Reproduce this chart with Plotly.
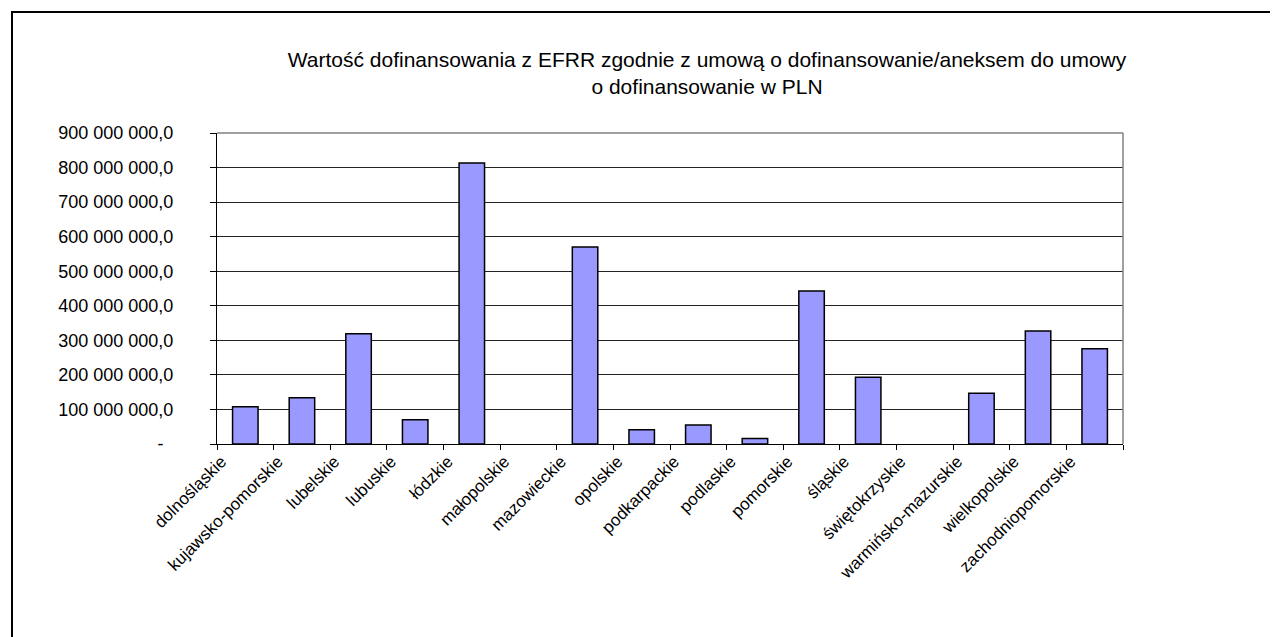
import plotly.graph_objects as go

categories = ["dolnośląskie", "kujawsko-pomorskie", "lubelskie", "lubuskie", "łódzkie",
              "małopolskie", "mazowieckie", "opolskie", "podkarpackie", "podlaskie",
              "pomorskie", "śląskie", "świętokrzyskie", "warmińsko-mazurskie",
              "wielkopolskie", "zachodniopomorskie"]
values = [108e6, 134e6, 319e6, 70e6, 813e6,
          None, 570e6, 41e6, 55e6, 16e6,
          443e6, 193e6, None, 147e6,
          327e6, 276e6]
y_ticks = [0, 100e6, 200e6, 300e6, 400e6, 500e6, 600e6, 700e6, 800e6, 900e6]
title_text = ("Wartość dofinansowania z EFRR zgodnie z umową o dofinansowanie/aneksem do umowy"
              "<br>o dofinansowanie w PLN")


def fmt(v):
    if v == 0:
        return "-\u00a0\u00a0"
    s = f"{int(v):,}".replace(",", " ")
    return s + ",0"


y_ticktext = [fmt(v) for v in y_ticks]

FONT = "Liberation Sans, Arial, sans-serif"
OFF = 8  # page body margin
W, H = 1278 - OFF, 637 - OFF
L, R, T, B = 217 - OFF, 1123 - OFF, 133 - OFF, 444 - OFF
pw, ph = R - L, B - T


def px(x):
    return (x - OFF - L) / pw


def py(y):
    return (B - (y - OFF)) / ph


fig = go.Figure()
fig.add_trace(go.Bar(
    x=categories, y=values,
    marker=dict(color="#9999FF", line=dict(color="black", width=1.5)),
    width=0.45,
))

fig.update_layout(
    width=W, height=H,
    margin=dict(l=L, r=W - R, t=T, b=H - B, autoexpand=False),
    paper_bgcolor="white", plot_bgcolor="white",
    showlegend=False,
    font=dict(family=FONT, color="black", size=15),
    title=dict(text=title_text, x=(707 - OFF - L) / pw, xref="paper", xanchor="center",
               y=1 - 59 / H, yref="container", yanchor="top",
               font=dict(family=FONT, size=21, color="black")),
    xaxis=dict(
        type="category", tickangle=-45, tickson="boundaries",
        ticks="outside", ticklen=5, tickcolor="black", tickwidth=1,
        showline=True, linecolor="black", linewidth=1,
        showgrid=False, tickfont=dict(family=FONT, size=17, color="black"),
        range=[-0.5, len(categories) - 0.5], ticklabelshift=-24,
    ),
    yaxis=dict(
        range=[0, 900e6], tickvals=y_ticks, ticktext=y_ticktext,
        ticks="outside", ticklen=6, tickcolor="black", tickwidth=1,
        showline=True, linecolor="black", linewidth=1,
        showgrid=True, gridcolor="#222222", gridwidth=1,
        zeroline=False, ticklabelstandoff=33,
        tickfont=dict(family=FONT, size=18, color="black"),
    ),
    shapes=[
        dict(type="line", xref="paper", yref="paper", x0=0, x1=1, y0=1, y1=1,
             line=dict(color="#808080", width=1.5), layer="above"),
        dict(type="line", xref="paper", yref="paper", x0=1, x1=1, y0=0, y1=1,
             line=dict(color="#808080", width=1.5), layer="above"),
        dict(type="rect", xref="paper", yref="paper",
             x0=px(12), x1=px(1300), y0=py(12), y1=py(660),
             line=dict(color="black", width=2), layer="above"),
    ],
)

fig.write_html("out.html")
